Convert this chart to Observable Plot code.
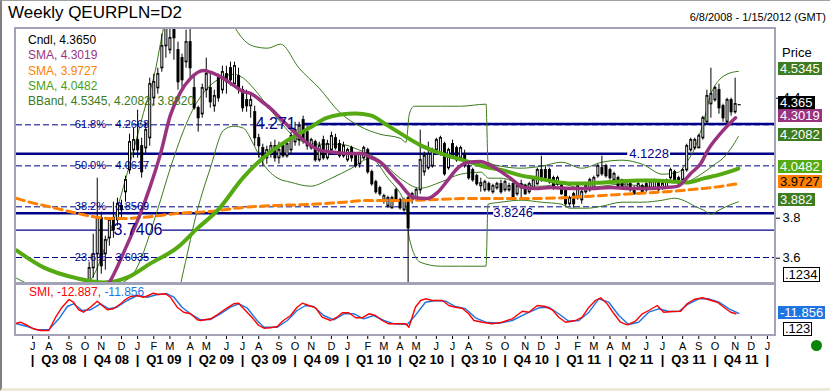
<!DOCTYPE html>
<html><head><meta charset="utf-8">
<script src="https://cdn.jsdelivr.net/npm/d3@7"></script>
<script src="https://cdn.jsdelivr.net/npm/@observablehq/plot@0.6"></script>
<style>
html,body{margin:0;padding:0;background:#fff;}
#root{position:relative;width:830px;height:391px;overflow:hidden;background:#fff;font-family:Arial,"Liberation Sans",Helvetica,sans-serif;}
#root svg{position:absolute;left:0;}
.abs{position:absolute;white-space:nowrap;}
.box{position:absolute;white-space:nowrap;font-size:13px;height:13px;line-height:13px;padding:0 2px;}
</style></head>
<body><div id="root"></div>
<script>
// ---------------- DATA ----------------
// weekly bars starting 2008-06-08 (index 0)
const candleOpen = [3.40,3.38,3.37,3.36,3.34,3.30,3.24,3.21,3.27,3.26, 3.29,3.33,3.37,3.36,3.42,3.45,3.38,3.42,3.47,3.55, 3.62,3.80,3.62,3.70,3.80,3.79,3.86,3.93,4.04,4.14, 4.19,4.16,4.15,4.20,4.40,4.45,4.55,4.66,4.64,4.78, 4.64,4.60,4.58,4.68,4.45,4.35,4.32,4.44,4.45,4.36, 4.50,4.44,4.52,4.55,4.47,4.51,4.44,4.39,4.36,4.33, 4.20,4.15,4.10,4.13,4.16,4.10,4.16,4.11,4.14,4.18, 4.19,4.29,4.23,4.15,4.18,4.09,4.19,4.10,4.14,4.20, 4.17,4.11,4.09,4.15,4.11,4.07,4.10,4.14,4.03,3.98, 3.95,3.89,3.86,3.85,3.94,3.89,3.84,3.90,3.89,3.90, 3.94,4.03,4.05,4.06,4.14,4.12,4.17,4.05,4.17,4.15, 4.10,4.12,4.06,4.04,4.01,3.96,3.94,3.97,3.93,3.95, 3.97,3.94,3.94,3.97,3.92,3.97,3.96,3.93,3.95,3.97, 4.04,4.04,4.04,4.00,3.97,3.96,3.95,3.87,3.92,3.90, 3.89,3.93,3.94,3.95,4.01,4.05,4.06,4.04,3.99,4.00, 3.99,3.95,3.97,3.95,3.95,3.96,3.97,3.95,3.95,3.98, 3.95,3.95,4.00,4.03,4.00,3.99,4.04,4.14,4.15,4.15, 4.20,4.28,4.37,4.39,4.44,4.36,4.28,4.39,4.33,4.365];
const candleHigh = [3.42,3.40,3.39,3.37,3.35,3.31,3.25,3.28,3.29,3.30, 3.35,3.39,3.39,3.44,3.47,3.46,3.44,3.47,3.58,3.72, 4.00,3.83,3.71,3.80,3.88,3.90,3.89,4.01,4.22,4.25, 4.34,4.20,4.28,4.50,4.52,4.55,4.72,4.92,4.80,4.85, 4.68,4.62,4.74,4.80,4.52,4.36,4.47,4.60,4.52,4.44, 4.52,4.56,4.56,4.58,4.58,4.55,4.46,4.44,4.42,4.36, 4.22,4.17,4.16,4.18,4.19,4.18,4.18,4.19,4.23,4.28, 4.28,4.31,4.26,4.20,4.19,4.18,4.21,4.19,4.23,4.22, 4.19,4.18,4.15,4.16,4.12,4.13,4.16,4.15,4.04,3.99, 3.96,3.92,3.91,3.91,3.95,3.90,3.90,3.91,3.93,3.95, 4.24,4.13,4.18,4.15,4.20,4.21,4.18,4.15,4.19,4.16, 4.16,4.14,4.07,4.05,4.02,4.00,3.99,3.98,3.97,3.98, 3.99,3.99,3.975,3.98,3.97,3.99,3.97,3.98,4.00,4.05, 4.11,4.06,4.05,4.01,4.01,3.97,3.95,3.91,3.93,3.97, 3.94,3.975,4.00,4.01,4.07,4.11,4.07,4.05,4.03,4.01, 3.995,3.985,3.98,3.96,3.98,3.97,3.98,3.99,3.995,3.99, 3.98,3.995,4.05,4.04,4.01,4.05,4.17,4.20,4.20,4.22, 4.31,4.44,4.55,4.46,4.47,4.37,4.40,4.40,4.50,4.365];
const candleLow = [3.36,3.35,3.34,3.32,3.28,3.23,3.20,3.20,3.24,3.25, 3.28,3.32,3.33,3.35,3.40,3.37,3.36,3.40,3.44,3.50, 3.46,3.52,3.54,3.66,3.70,3.76,3.79,3.88,4.02,4.10, 4.10,4.00,4.12,4.16,4.36,4.42,4.53,4.60,4.62,4.59, 4.44,4.45,4.55,4.50,4.34,4.23,4.30,4.40,4.35,4.33, 4.38,4.42,4.42,4.46,4.45,4.42,4.33,4.33,4.30,4.16, 4.10,4.06,4.07,4.10,4.08,4.07,4.10,4.10,4.12,4.16, 4.16,4.17,4.14,4.14,4.08,4.08,4.09,4.09,4.13,4.14, 4.10,4.10,4.08,4.08,4.05,4.05,4.09,4.02,3.96,3.92, 3.91,3.87,3.85,3.845,3.88,3.84,3.83,3.30,3.87,3.89, 3.92,4.01,4.04,4.05,4.13,4.11,4.01,4.04,4.10,4.08, 4.09,4.05,3.99,3.98,3.96,3.93,3.93,3.93,3.92,3.94, 3.92,3.93,3.93,3.90,3.91,3.89,3.915,3.92,3.94,3.965, 3.98,3.99,3.97,3.94,3.96,3.915,3.86,3.86,3.85,3.89, 3.87,3.92,3.93,3.945,4.00,4.01,4.00,3.99,3.98,3.945, 3.94,3.94,3.93,3.915,3.94,3.92,3.93,3.94,3.945,3.93, 3.94,3.945,3.99,3.98,3.96,3.98,4.03,4.13,4.14,4.15, 4.19,4.27,4.30,4.38,4.32,4.28,4.27,4.31,4.32,4.365];
const candleClose = [3.38,3.37,3.36,3.34,3.30,3.24,3.21,3.27,3.26,3.29, 3.33,3.37,3.36,3.42,3.45,3.38,3.42,3.46,3.55,3.62, 3.80,3.56,3.69,3.79,3.74,3.87,3.84,3.99,4.18,4.19, 4.14,4.03,4.24,4.47,4.48,4.52,4.66,4.82,4.70,4.70, 4.48,4.49,4.68,4.55,4.35,4.30,4.45,4.52,4.38,4.41, 4.40,4.53,4.48,4.49,4.56,4.45,4.35,4.36,4.39,4.20, 4.16,4.09,4.14,4.16,4.10,4.14,4.11,4.17,4.21,4.24, 4.26,4.19,4.16,4.19,4.09,4.16,4.10,4.17,4.21,4.15, 4.11,4.16,4.14,4.10,4.06,4.12,4.15,4.03,3.97,3.93, 3.92,3.91,3.90,3.90,3.89,3.85,3.89,3.75,3.92,3.94, 4.09,4.11,4.12,4.14,4.19,4.20,4.02,4.14,4.11,4.09, 4.15,4.06,4.00,3.99,3.97,3.975,3.98,3.94,3.96,3.97, 3.93,3.98,3.96,3.90,3.96,3.95,3.92,3.97,3.99,4.04, 3.99,4.00,3.98,3.95,4.00,3.92,3.87,3.90,3.87,3.96, 3.93,3.96,3.99,4.00,4.06,4.02,4.01,4.00,4.02,3.95, 3.95,3.98,3.94,3.92,3.97,3.93,3.94,3.98,3.99,3.94, 3.97,3.99,4.04,3.99,3.97,4.04,4.16,4.19,4.19,4.21, 4.30,4.41,4.42,4.45,4.35,4.30,4.39,4.33,4.37,4.365];

// indicator lines: [week index, value]
const smaPurple = [[15,3.38],[19,3.42],[22.8,3.474],[27,3.649],[30.7,3.824],[33.2,3.964],[35.7,4.124],[38.1,4.314],[40.6,4.429],[43.1,4.499],[46.3,4.539],[48.8,4.524],[51.3,4.499],[53.8,4.464],[56,4.434],[58,4.424],[60.4,4.389],[62.9,4.349],[65.4,4.299],[67.9,4.249],[70.3,4.204],[72.8,4.164],[75.3,4.139],[79,4.129],[82.7,4.124],[85.7,4.124],[87.7,4.104],[90.2,4.079],[92.6,4.024],[95.1,3.969],[98.3,3.904],[101.8,3.899],[104.3,3.929],[106.8,3.989],[109.2,4.049],[111.7,4.079],[114.9,4.084],[117.4,4.064],[119.9,4.034],[122.4,3.999],[125.6,3.954],[128.6,3.949],[132.3,3.954],[137.2,3.949],[142.2,3.949],[147.1,3.954],[152.1,3.949],[157,3.949],[160.8,3.954],[163.7,3.959],[167,4.024],[169.5,4.074],[171.2,4.139],[174.4,4.224],[178.1,4.3019]];
const smaGreen = [[0,3.639],[6.7,3.554],[15.1,3.499],[21.6,3.479],[27.5,3.504],[33.2,3.574],[39.9,3.654],[44.8,3.749],[49.8,3.839],[56.2,4.004],[61.2,4.104],[67.1,4.189],[72.8,4.254],[76.5,4.299],[80.3,4.319],[84,4.324],[87.7,4.314],[91.9,4.264],[95.9,4.214],[100.1,4.164],[104.3,4.129],[108.2,4.104],[112.5,4.079],[116.7,4.054],[120.6,4.039],[124.8,4.014],[129.1,3.999],[133,3.984],[137.2,3.974],[141.4,3.974],[145.4,3.979],[149.6,3.984],[153.8,3.989],[157.8,3.989],[162,3.984],[166.2,3.979],[170.2,3.999],[174.4,4.019],[178.8,4.0482]];
const smaOrange = [[0,3.899],[3.5,3.879],[6.7,3.864],[10.9,3.844],[15.1,3.824],[20.1,3.804],[23.3,3.799],[27.5,3.799],[31.5,3.804],[35.7,3.814],[39.9,3.824],[48,3.834],[56.2,3.854],[64.7,3.864],[72.8,3.869],[80.3,3.879],[87.7,3.889],[95.9,3.889],[104.3,3.894],[112.5,3.899],[120.6,3.899],[129.1,3.899],[137.2,3.904],[145.4,3.914],[153.8,3.924],[162,3.934],[170.2,3.949],[174.4,3.959],[178.8,3.9727]];
const bbUpper = [[0,3.50],[4,3.46],[10,3.42],[15,3.45],[18.3,3.49],[23.3,3.74],[27.5,4.03],[31.5,4.33],[34.4,4.54],[36.2,4.73],[40,5.0],[45,5.05],[50,4.95],[54.2,4.75],[58.7,4.66],[62.2,4.65],[65.4,4.67],[70,4.55],[75,4.45],[80,4.33],[85,4.26],[90,4.22],[95,4.20],[96.5,4.18],[97.3,4.32],[98.5,4.36],[105,4.36],[110,4.36],[116.3,4.37],[116.8,4.08],[120,4.06],[125,4.05],[130,4.06],[135,4.08],[140,4.05],[145,4.08],[150,4.09],[155,4.07],[160,4.02],[164,4.03],[166,4.08],[168,4.15],[170,4.27],[172,4.42],[174,4.49],[176,4.52],[178.8,4.5345]];
const bbMiddle = [[0,3.40],[10,3.30],[20,3.38],[25,3.46],[29.5,3.54],[34.9,3.84],[38.1,4.05],[41.4,4.24],[43.6,4.34],[47.3,4.45],[50.5,4.50],[53.8,4.52],[56.2,4.50],[58.7,4.45],[62.2,4.36],[65.4,4.28],[70,4.19],[75,4.17],[80,4.17],[85,4.14],[90,4.09],[95,4.00],[100,3.95],[105,3.98],[110,4.02],[115,4.03],[117,4.00],[120,4.00],[125,3.97],[130,3.96],[135,3.97],[140,3.95],[145,3.96],[150,3.97],[155,3.96],[160,3.95],[165,3.97],[168,4.00],[171,4.04],[173,4.07],[175,4.10],[177,4.15],[178.8,4.2082]];
const bbLower = [[0,3.25],[10,3.15],[20,3.10],[30,3.15],[38,3.25],[41.4,3.54],[44.8,3.84],[48,4.05],[51.3,4.24],[53.8,4.26],[56.2,4.25],[58.7,4.17],[61.2,4.07],[64.7,4.00],[67.9,3.98],[72.8,3.96],[78,4.00],[83,4.05],[87.7,4.10],[92,4.00],[95.9,3.89],[96.5,3.86],[97.3,3.70],[100,3.58],[105,3.56],[110,3.56],[116.3,3.56],[116.8,3.87],[120,3.88],[125,3.89],[130,3.88],[135,3.87],[137,3.85],[141.4,3.85],[145,3.86],[150,3.88],[155,3.88],[160,3.89],[163,3.90],[166.2,3.88],[168,3.86],[170.2,3.84],[172,3.82],[174,3.84],[176,3.86],[178.8,3.882]];
const smiRed = [[0,-35.5],[1,-33.1],[2.7,-41],[4.2,-48.9],[6,-53],[8,-53],[9.7,-21.1],[11.3,2.9],[13,21.4],[14.1,14.9],[15.4,-3.3],[16.6,-9.1],[18.3,2.9],[20,17.3],[21.2,7],[22.5,-3.3],[24,-0.9],[25.8,11.1],[27,21.4],[28.2,28.6],[29.9,31],[31.5,26.9],[32.7,31],[33.9,36.5],[35.2,33.4],[36.9,35.1],[38.1,26.9],[39.8,2.9],[41.4,-9.1],[43.1,-12.9],[44.8,-27.3],[45.6,-29],[48.1,-24.9],[49.7,-15.3],[52.2,1.5],[53.8,11.1],[55,12.5],[56.7,-5],[58.4,-22.5],[60,-41],[61.3,-47.5],[62.9,-46.5],[64.6,-43.4],[66.1,-29],[67.9,-17],[69.5,2.9],[70.8,12.5],[72.4,7],[74.1,1.5],[75.7,-21.1],[77.8,-29],[79.4,-21.1],[80.7,-10.5],[82.3,-10.5],[84,-22.5],[85.6,-22.5],[87.3,-12.9],[88.9,-17],[90.6,-29],[92.2,-36.9],[94.7,-36.9],[96.4,-36.9],[97.2,-45.1],[98,-21.1],[98.8,2.9],[100.1,19],[101.3,23.1],[103,19],[105.5,19],[107.1,7],[108.7,2.9],[110.4,0.5],[112,-12.9],[113.3,-29],[115.4,-33.1],[117.8,-36.9],[120.3,-33.1],[122.8,-24.9],[125.3,-6.7],[126.9,-9.1],[129,7],[131,4.6],[132.7,-3.3],[134.3,-21.1],[136,-33.1],[138.5,-29],[140.1,-21.1],[141.8,2.9],[143.4,19],[144.7,25.5],[146.3,11.1],[148,-12.9],[149.6,-33.1],[151.3,-39.3],[153.3,-30.7],[155,-12.9],[156.6,-5],[158.7,7],[160.3,-9.1],[162.4,-7.4],[164.5,-6.7],[166.1,11.1],[167.8,21.4],[169.9,25.5],[171.5,20.7],[173.6,14.9],[175.2,2.9],[176.9,-9.1],[178.2,-12.887]];
const smiBlue = [[0,-36.9],[2.7,-43.4],[5.1,-51.3],[8,-51.3],[10.5,-24.9],[12.6,4.6],[14.1,11.1],[16.3,-5],[18.3,-3.3],[20.8,11.1],[22.9,-0.9],[24.9,2.9],[27.4,19],[29.9,31],[32.4,26.9],[34.9,33.4],[37.3,35.1],[39,26.9],[41,2.9],[43.1,-12.9],[45.6,-27.3],[48.1,-26.6],[50.5,-12.9],[53,2.9],[55.1,11.1],[57.1,1.5],[59.6,-29],[61.3,-45.1],[64.6,-45.1],[67.1,-29],[69.5,-5],[71.6,7],[73.6,4.6],[76.1,-17],[78.6,-27.3],[81.1,-12.9],[83.6,-12.9],[86,-24.9],[88.5,-17],[91,-29],[93.5,-36.9],[96.8,-38.6],[98.6,-19],[101.3,14.9],[103.8,19],[106.3,17.3],[108.7,4.6],[111.2,-0.9],[113.7,-22.5],[116.2,-33.1],[119.5,-35.5],[122.8,-29],[126.1,-12.9],[129.4,1.5],[131.9,2.9],[134.3,-12.9],[136.8,-30.7],[139.3,-29],[141.8,-9.1],[144.2,23.1],[146.7,14.9],[149.2,-17],[151.6,-38.6],[154.1,-33.1],[156.6,-9.1],[159.1,-0.9],[161.6,-7.4],[164.1,-6.7],[166.5,11.1],[169,23.1],[171.5,23.1],[174,14.9],[176.5,-0.9],[178.9,-11.856]];

// horizontal levels
const fibPercents = ["23.6%", "38.2%", "50.0%", "61.8%"];
const fibValues = [3.6035, 3.8569, 4.0617, 4.2668];
const fibValueText = ["3.6035", "3.8569", "4.0617", "4.2668"];
const levelThick = [{v: 4.1228, a: 0, b: 151.4}, {v: 4.1228, a: 162, b: 188}, {v: 3.8246, a: 0, b: 118.2}, {v: 3.8246, a: 128.1, b: 188}, {v: 4.271, a: 71, b: 188}];
const levelThin = [{v: 3.7406, a: 0, b: 24.3}, {v: 3.7406, a: 36.2, b: 188}];
const levelLabelsSmall = [{v: 4.1228, t: "4.1228", w: 156.7}, {v: 3.8246, t: "3.8246", w: 123}];
const levelLabelsBig = [{v: 4.271, t: "4.271", w: 64.2}, {v: 3.7406, t: "3.7406", w: 30.1}];

// axes / labels
const priceTicks = [3.6, 3.8, 4.4];
const monthLetters = ["J","F","M","A","M","J","J","A","S","O","N","D"];
const quarterLabels = ["Q3 08","Q4 08","Q1 09","Q2 09","Q3 09","Q4 09","Q1 10","Q2 10","Q3 10","Q4 10","Q1 11","Q2 11","Q3 11","Q4 11"];
const legendItems = [["Cndl, 4.3650","#000"],["SMA, 4.3019","#993380"],["SMA, 3.9727","#ff8000"],["SMA, 4.0482","#4aa010"],["BBand, 4.5345, 4.2082, 3.8820","#3a7a1c"]];
const valueBoxes = [[4.5345,"4.5345","#3d7c20","#fff"],[4.365,"4.365","#000","#fff"],[4.3019,"4.3019","#993380","#fff"],[4.2082,"4.2082","#3d7c20","#fff"],[4.0482,"4.0482","#55aa11","#fff"],[3.9727,"3.9727","#ff8000","#000"],[3.882,"3.882","#3d7c20","#fff"]];
const smiLast = -11.856;

// ---------------- CHART ----------------
const FONT = 'Arial, "Liberation Sans", Helvetica, sans-serif';
const NAVY = "#000088", PURPLE = "#993380", ORANGE = "#ff8000", GREEN = "#55aa11", BBG = "#3a7a1c";
const DAY = 864e5, t0 = Date.UTC(2008, 5, 8);
const wk = i => new Date(t0 + i * 7 * DAY);
const xDomain = [wk(0), wk(188)];
const candles = candleOpen.map((o, i) => ({date: wk(i), o, h: candleHigh[i], l: candleLow[i], c: candleClose[i]}));
const hollow = candles.filter(d => d.c > d.o);
const top_ = d => Math.max(d.o, d.c), bot_ = d => Math.min(d.o, d.c);
const P = () => ({x: d => wk(d[0]), y: d => d[1]});

const root = document.getElementById("root");

const main = Plot.plot({
  width: 830, height: 286,
  marginLeft: 16, marginRight: 55, marginTop: 28, marginBottom: 2,
  style: {background: "transparent", fontFamily: FONT, fontSize: "13px", color: "#000", overflow: "visible"},
  x: {type: "utc", domain: xDomain, axis: null},
  y: {domain: [3.4685, 4.7485], axis: "right", ticks: priceTicks, tickFormat: d => d.toFixed(1), tickSize: 4, tickPadding: 3, label: null},
  marks: [
    Plot.ruleY(fibValues, {stroke: NAVY, strokeWidth: 1, strokeDasharray: "6,3"}),
    Plot.ruleY(levelThick, {y: "v", x1: d => wk(d.a), x2: d => wk(d.b), stroke: NAVY, strokeWidth: 2.5}),
    Plot.ruleY(levelThin, {y: "v", x1: d => wk(d.a), x2: d => wk(d.b), stroke: NAVY, strokeWidth: 1.2}),
    Plot.line(bbUpper, {...P(), stroke: BBG, strokeWidth: 1, curve: "monotone-x", clip: true}),
    Plot.line(bbMiddle, {...P(), stroke: BBG, strokeWidth: 1, curve: "monotone-x", clip: true}),
    Plot.line(bbLower, {...P(), stroke: BBG, strokeWidth: 1, curve: "monotone-x", clip: true}),
    Plot.ruleX(candles, {x: "date", y1: "h", y2: "l", stroke: "#000", strokeWidth: 1, clip: true}),
    Plot.ruleX(candles, {x: "date", y1: top_, y2: bot_, stroke: "#000", strokeWidth: 3, insetTop: -0.6, insetBottom: -0.6, clip: true}),
    Plot.ruleX(hollow, {x: "date", y1: top_, y2: bot_, stroke: "#fff", strokeWidth: 1, insetTop: 1, insetBottom: 1, clip: true}),
    Plot.line(smaOrange, {...P(), stroke: ORANGE, strokeWidth: 3, strokeDasharray: "8,5", curve: "monotone-x", clip: true}),
    Plot.line(smaGreen, {...P(), stroke: GREEN, strokeWidth: 4, curve: "monotone-x", clip: true}),
    Plot.line(smaPurple, {...P(), stroke: PURPLE, strokeWidth: 3.5, curve: "monotone-x", clip: true}),
    Plot.text(fibValues, {x: () => wk(18.3), y: d => d, text: (d, i) => fibPercents[i], fill: NAVY, fontSize: 11}),
    Plot.text(fibValues, {x: () => wk(28.7), y: d => d, text: (d, i) => fibValueText[i], fill: NAVY, fontSize: 11}),
    Plot.text(levelLabelsSmall, {x: d => wk(d.w), y: "v", text: "t", fill: NAVY, fontSize: 13}),
    Plot.text(levelLabelsBig, {x: d => wk(d.w), y: "v", text: "t", fill: NAVY, fontSize: 16})
  ]
});
main.style.top = "0px";
root.appendChild(main);

// month ticks at first weekly bar of each month
const monthTicks = d3.utcMonths(new Date(Date.UTC(2008, 6, 1)), new Date(Date.UTC(2012, 0, 2))).map(m => d3.utcSunday.ceil(m));
const qStarts = monthTicks.filter(d => d.getUTCMonth() % 3 === 0);
const qMids = quarterLabels.map((t, k) => ({t, x: new Date((+qStarts[k] + +qStarts[k + 1]) / 2)}));

const smi = Plot.plot({
  width: 830, height: 107,
  marginLeft: 16, marginRight: 55, marginTop: 1, marginBottom: 56,
  style: {background: "transparent", fontFamily: FONT, fontSize: "11px", color: "#000", overflow: "visible"},
  x: {type: "utc", domain: xDomain, ticks: monthTicks, tickFormat: d => monthLetters[d.getUTCMonth()], tickSize: 4, tickPadding: 3, label: null},
  y: {domain: [-65, 55], axis: null},
  marks: [
    Plot.line(smiBlue, {...P(), stroke: "#1f74e0", strokeWidth: 1.4}),
    Plot.line(smiRed, {...P(), stroke: "#ff0000", strokeWidth: 1.4}),
    Plot.text(qMids, {x: "x", text: "t", frameAnchor: "bottom", dy: 28, fontWeight: "bold", fontSize: 13}),
    Plot.text(qStarts, {x: d => d, text: () => "|", frameAnchor: "bottom", dy: 28, fontWeight: "bold", fontSize: 13})
  ]
});
smi.style.top = "284px";
root.appendChild(smi);

// ---------------- HTML overlays ----------------
function add(html, css) {
  const el = document.createElement("div");
  el.className = "abs";
  el.innerHTML = html;
  Object.assign(el.style, css);
  root.appendChild(el);
  return el;
}
// panel frames
add("", {left: "14px", top: "27px", width: "762px", height: "257px", boxSizing: "border-box", border: "2px solid #a2a2b8"});
add("", {left: "14px", top: "283px", width: "762px", height: "53px", boxSizing: "border-box", border: "2px solid #a2a2b8"});
// window border
add("", {left: "0px", top: "0px", width: "830px", height: "391px", boxSizing: "border-box", borderLeft: "2px solid #808080", borderTop: "1px solid #a0a0a0", borderBottom: "3px solid #ece9d8"});

add("Weekly QEURPLN=D2", {left: "8px", top: "3px", fontSize: "17px", lineHeight: "20px", color: "#000"});
add("6/8/2008 - 1/15/2012 (GMT)", {right: "4px", top: "11px", fontSize: "11px", lineHeight: "12px", color: "#000"});
add("Price", {left: "782px", top: "46px", fontSize: "13px", lineHeight: "14px"});

legendItems.forEach(([t, c], k) => add(t, {left: "28px", top: (33 + k * 15.3) + "px", fontSize: "12px", lineHeight: "14px", color: c}));
add('<span style="color:#ff0000">SMI, -12.887, </span><span style="color:#1f74e0">-11.856</span>', {left: "29px", top: "285px", fontSize: "12px", lineHeight: "14px"});

// value boxes on the price axis, placed through the y scale
const ys = main.scale("y");
const placed = valueBoxes.map(([v, t, bg, fg]) => ({v, t, bg, fg, y: ys.apply(v) - 2})).sort((a, b) => a.y - b.y);
for (let k = 1; k < placed.length; k++) if (placed[k].y - placed[k - 1].y < 13) placed[k].y = placed[k - 1].y + 13;
placed.forEach(b => {
  const el = document.createElement("div");
  el.className = "box";
  el.textContent = b.t;
  Object.assign(el.style, {left: "778px", top: (b.y - 6.5) + "px", background: b.bg, color: b.fg});
  root.appendChild(el);
});
add(".1234", {left: "783px", top: "267px", fontSize: "13px", lineHeight: "13px", border: "1px solid #000", padding: "0 1px", background: "#fff"});

const sy = smi.scale("y");
add(String(smiLast), {left: "778px", top: (284 + sy.apply(smiLast) - 6.5) + "px", fontSize: "13px", lineHeight: "13px", height: "13px", padding: "0 2px", background: "#1f74e0", color: "#fff"});
add(".123", {left: "783px", top: "322px", fontSize: "13px", lineHeight: "12px", border: "1px solid #000", padding: "0 1px", background: "#fff"});
add("", {left: "811px", top: "340px", width: "11px", height: "11px", borderRadius: "50%", background: "#0a850a"});
</script></body></html>
